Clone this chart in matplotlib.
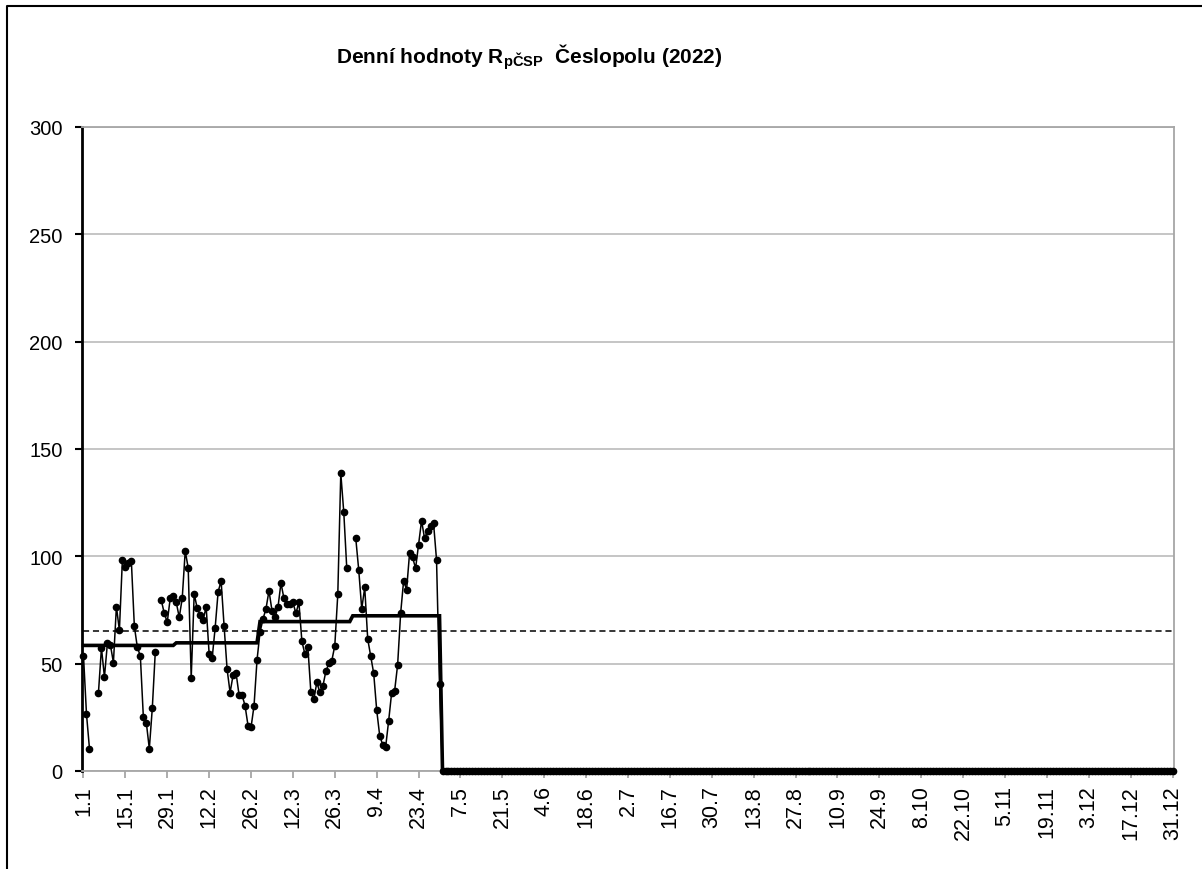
import numpy as np
import matplotlib
matplotlib.use("Agg")
import matplotlib.pyplot as plt
from matplotlib.lines import Line2D

plt.rcParams["font.family"] = ["Liberation Sans", "DejaVu Sans"]
plt.rcParams["mathtext.fontset"] = "custom"
plt.rcParams["mathtext.rm"] = "Liberation Sans"
plt.rcParams["mathtext.bf"] = "Liberation Sans:bold"

# daily values Jan 1 .. Apr 30 (nan = missing day), then zeros to Dec 31
daily_jan = [53.6, 26.5, 10.4, np.nan, np.nan, 36.5, 57.3, 43.8, 59.6, 58.7,
             50.5, 76.6, 65.5, 98.4, 95.2, 96.7, 97.6, 67.4, 57.6, 53.6,
             25.3, 22.5, 10.4, 29.3, 55.6, np.nan, 79.6, 73.4, 69.4, 80.6, 81.4]
daily_feb = [78.6, 71.6, 80.4, 102.5, 94.6, 43.3, 82.6, 75.8, 72.7, 70.5,
             76.4, 54.5, 52.5, 66.6, 83.5, 88.5, 67.4, 47.4, 36.5, 44.7,
             45.6, 35.4, 35.4, 30.4, 21.1, 20.3, 30.4, 51.7]
daily_mar = [64.6, 70.8, 75.6, 84.0, 74.7, 71.6, 76.2, 87.6, 80.4, 77.8,
             77.8, 78.6, 73.4, 78.6, 60.4, 54.5, 57.6, 36.6, 33.5, 41.3,
             36.6, 39.4, 46.4, 50.1, 51.4, 58.4, 82.4, 138.7, 120.5, 94.4, np.nan]
daily_apr = [np.nan, 108.5, 93.6, 75.5, 85.5, 61.5, 53.6, 45.5, 28.4, 16.5,
             12.3, 11.3, 23.4, 36.5, 37.4, 49.5, 73.4, 88.6, 84.5, 101.7,
             99.5, 94.4, 105.4, 116.6, 108.4, 111.8, 114.0, 115.5, 98.4, 40.5]
daily_rest = [0.0] * 245

month_days = [31, 28, 31, 30, 31, 30, 31, 31, 30, 31, 30, 31]
month_mean = [58.5, 59.7, 69.6, 72.3, 0, 0, 0, 0, 0, 0, 0, 0]
long_term = 65.0

tick_labels = ["1.1", "15.1", "29.1", "12.2", "26.2", "12.3", "26.3", "9.4",
               "23.4", "7.5", "21.5", "4.6", "18.6", "2.7", "16.7", "30.7",
               "13.8", "27.8", "10.9", "24.9", "8.10", "22.10", "5.11",
               "19.11", "3.12", "17.12", "31.12"]

daily = np.array(daily_jan + daily_feb + daily_mar + daily_apr + daily_rest)
days = np.arange(1, len(daily) + 1)
monthly = np.repeat(month_mean, month_days)

fig = plt.figure(figsize=(12.02, 8.70), dpi=100)
ax = fig.add_axes([82 / 1202, 98 / 870, 1092 / 1202, 644 / 870])

ax.yaxis.grid(True, color="#c0c0c0", lw=1.3)
ax.set_axisbelow(True)

ax.plot(days, np.full(len(days), long_term), color="black", lw=1.1,
        ls=(0, (4, 2.5)), zorder=2)
ax.plot(days, monthly, color="black", lw=2.6, zorder=3,
        solid_joinstyle="miter", clip_on=False)
ax.plot(days, daily, color="black", lw=1.1, marker="o", ms=4.5,
        zorder=4, clip_on=False)

ax.set_xlim(0.5, 365.5)
ax.set_ylim(0, 300)
ax.set_yticks(np.arange(0, 301, 50))
ax.set_xticks(np.arange(1, 366, 14))
ax.set_xticklabels(tick_labels, rotation=90)
ax.tick_params(axis="y", direction="out", length=5, width=1.5, color="black",
               labelsize=14.5, pad=9)
ax.tick_params(axis="x", direction="out", length=5, width=1.3, color="#a6a6a6",
               labelsize=15.5, pad=5)

for side in ["top", "right", "bottom"]:
    ax.spines[side].set_color("#a6a6a6")
    ax.spines[side].set_linewidth(1.3)
ax.spines["left"].set_color("black")
ax.spines["left"].set_linewidth(2)

fig.text(529 / 1202, 1 - 57 / 870,
         r"Denní hodnoty R$_{\mathbf{pČSP}}$  Česlopolu (2022)",
         ha="center", va="center", fontsize=15, fontweight="bold")

# chart area border (right and bottom edges fall outside the image)
fig.add_artist(Line2D([7 / 1202, 7 / 1202, 1.01], [-0.01, 1 - 7 / 870, 1 - 7 / 870],
                      transform=fig.transFigure, color="black", lw=1.5))

fig.savefig("out.png", dpi=100)
